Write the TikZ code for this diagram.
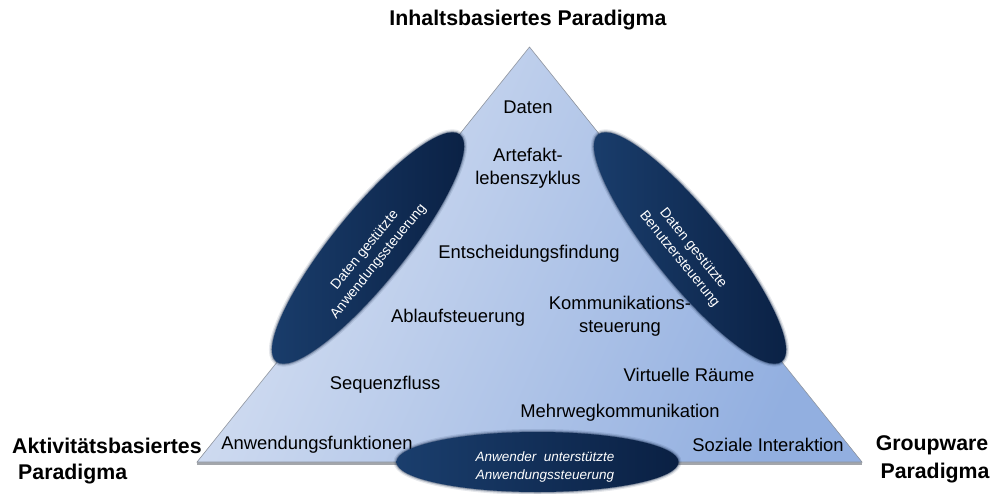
\documentclass[tikz,border=0pt]{standalone}
\usepackage{fontspec}
\setmainfont{Liberation Sans}
\usetikzlibrary{shapes.geometric}

\definecolor{trilight}{HTML}{D6E0F2}
\definecolor{trimid}{HTML}{C7D4EF}
\definecolor{tridark}{HTML}{92AFE0}
\definecolor{triedge}{HTML}{8E949E}
\definecolor{trishadow}{HTML}{A3A6AB}
\definecolor{navylight}{HTML}{1A3E6D}
\definecolor{navymid}{HTML}{112D56}
\definecolor{navydark}{HTML}{0A2043}

\tikzset{
  paradigm/.style={font=\fontsize{21.3}{26}\selectfont\bfseries, inner sep=0pt},
  term/.style={font=\fontsize{18.4}{23.5}\selectfont, align=center, inner sep=0pt},
  oval/.style={ellipse, inner sep=0pt, minimum width=292pt, minimum height=72pt,
    left color=navylight, middle color=navymid, right color=navydark,
    preaction={draw=navydark, line width=6pt, draw opacity=0.10},
    preaction={draw=navydark, line width=3.5pt, draw opacity=0.20},
    preaction={draw=navydark, line width=1.4pt, draw opacity=0.35}},
  ovaltext/.style={font=\fontsize{14}{17.5}\selectfont, text=white, align=center, inner sep=0pt},
}

\begin{document}
\begin{tikzpicture}[x=1pt,y=-1pt]
\useasboundingbox (0,0) rectangle (992,493);

% corners of the triangle
\coordinate (apex) at (529.5,47);
\coordinate (bl) at (197,462);
\coordinate (br) at (862,462);

% base shadow, fill and outline
\draw[trishadow, line width=2.6pt] ([yshift=-1.6pt]bl) -- ([yshift=-1.6pt]br);
\shade[left color=trilight, middle color=trimid, right color=tridark, shading angle=66]
  (apex) -- (br) -- (bl) -- cycle;
\draw[triedge, line width=0.6pt] (apex) -- (br) -- (bl) -- cycle;

% paradigm labels
\node[paradigm] (inhalt) at (528,20) {Inhaltsbasiertes Paradigma};
\node[paradigm, anchor=west] (aktiv1) at (12,446) {Aktivitätsbasiertes};
\node[paradigm, anchor=west] (aktiv2) at (18,474) {Paradigma};
\node[paradigm] (group1) at (932,445) {Groupware};
\node[paradigm] (group2) at (935,473) {Paradigma};

% terms inside the triangle
\node[term] (daten) at (528,107) {Daten};
\node[term] (artefakt) at (528,168) {Artefakt-\\lebenszyklus};
\node[term] (entscheidung) at (529,254) {Entscheidungsfindung};
\node[term] (ablauf) at (458,318) {Ablaufsteuerung};
\node[term] (kommunikation) at (620,316) {Kommunikations-\\steuerung};
\node[term] (sequenz) at (385,385) {Sequenzfluss};
\node[term] (virtuell) at (689,375) {Virtuelle Räume};
\node[term] (mehrweg) at (620,413) {Mehrwegkommunikation};
\node[term] (anwendung) at (317,445) {Anwendungsfunktionen};
\node[term] (sozial) at (768,445) {Soziale\ Interaktion};

% dark ovals on the three sides
\node[oval, rotate=51] (ovalleft) at (368,248) {};
\node[oval, rotate=-51] (ovalright) at (690,248) {};
\node[oval, minimum width=282pt, minimum height=60pt] (ovalbottom) at (537.5,462) {};

\node[ovaltext, rotate=51] (textleft) at (372,256) {Daten gestützte\\Anwendungssteuerung};
\node[ovaltext, rotate=-51] (textright) at (686,254) {Daten gestützte\\Benutzersteuerung};
\node[ovaltext, font=\fontsize{13.5}{18}\selectfont\itshape] (textbottom) at (545,467)
  {Anwender\ \ unterstützte\\Anwendungssteuerung};
\end{tikzpicture}
\end{document}
